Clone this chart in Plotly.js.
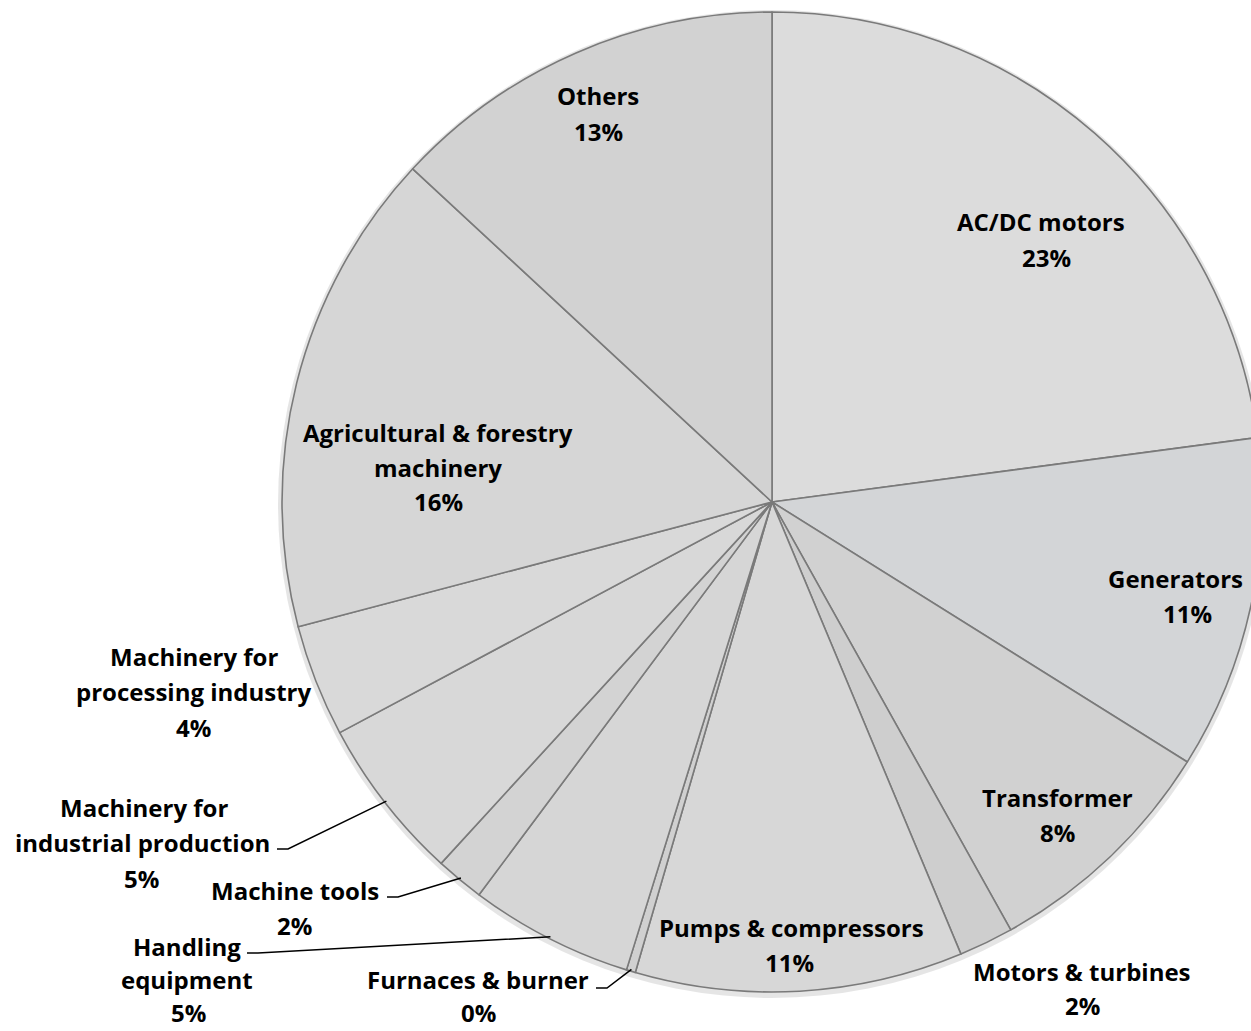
<!DOCTYPE html>
<html>
<head>
<meta charset="utf-8">
<script src="https://cdn.plot.ly/plotly-3.0.1.min.js"></script>
<style>
html,body{margin:0;padding:0;overflow:hidden;background:#fff;}
#chart{width:1280px;height:1031px;}
</style>
</head>
<body>
<div id="chart"></div>
<script>
// ---- data ----
const categories = [
  "AC/DC motors", "Generators", "Transformer", "Motors & turbines",
  "Pumps & compressors", "Furnaces & burner", "Handling equipment",
  "Machine tools", "Machinery for industrial production",
  "Machinery for processing industry", "Agricultural & forestry machinery", "Others"
];
const shares = [22.9, 11.0, 8.0, 1.8, 10.8, 0.3, 5.4, 1.6, 5.4, 3.7, 16.0, 13.1];
const percentLabels = ["23%", "11%", "8%", "2%", "11%", "0%", "5%", "2%", "5%", "4%", "16%", "13%"];
const labelLines = [
  ["AC/DC motors"], ["Generators"], ["Transformer"], ["Motors & turbines"],
  ["Pumps & compressors"], ["Furnaces & burner"], ["Handling", "equipment"],
  ["Machine tools"], ["Machinery for", "industrial production"],
  ["Machinery for", "processing industry"], ["Agricultural & forestry", "machinery"], ["Others"]
];

// ---- layout / style config ----
const W = 1280, H = 1031;
const CX = 772, CY = 502, R = 490;
const sliceColors = ["#dcdcdc", "#d3d5d7", "#d1d1d1", "#cecece", "#d7d7d7", "#d0d0d0",
                     "#d6d6d6", "#d3d3d3", "#d8d8d8", "#d9d9d9", "#d6d6d6", "#d2d2d2"];
// label placement (pixels): per-line x centres, first line y, line gap
const labelPos = [
  {x: [1041, 1046], y: 222, gap: 35},
  {x: [1175, 1187], y: 578, gap: 35},
  {x: [1057, 1057], y: 797, gap: 35},
  {x: [1082, 1082], y: 971, gap: 34},
  {x: [791, 789], y: 927, gap: 35},
  {x: [478, 478], y: 979, gap: 33, lead: [596, 988]},
  {x: [187, 187, 188], y: 946, gap: 33, lead: [247, 953]},
  {x: [295, 294], y: 890, gap: 35, lead: [387, 897]},
  {x: [144, 142, 141], y: 807, gap: 35.5, lead: [277, 849]},
  {x: [194, 194, 193], y: 656, gap: 35.5},
  {x: [438, 438, 438], y: 432, gap: 35},
  {x: [598, 598], y: 96, gap: 35}
];

const px = x => x / W;
const py = y => 1 - y / H;

const annotations = [];
const shapes = [];
const total = shares.reduce((a, b) => a + b, 0);
let cum = 0;
categories.forEach((c, i) => {
  const lines = labelLines[i].concat([percentLabels[i]]);
  const pos = labelPos[i];
  lines.forEach((t, k) => {
    annotations.push({
      x: px(pos.x[k]), y: py(pos.y + k * pos.gap), xref: "paper", yref: "paper",
      text: "<b>" + t.replace(/&/g, "&amp;") + "</b>", showarrow: false,
      xanchor: "center", yanchor: "middle", borderpad: 0,
      font: {family: "'Open Sans', sans-serif", size: 24, color: "#000"}
    });
  });
  const mid = (cum + shares[i] / 2) / total;
  cum += shares[i];
  if (pos.lead) {
    const th = mid * 2 * Math.PI;
    const ex = CX + (R - 2) * Math.sin(th);
    const ey = CY - (R - 2) * Math.cos(th);
    const [sx, sy] = pos.lead;
    shapes.push({
      type: "path", xref: "paper", yref: "paper",
      path: `M ${px(sx)} ${py(sy)} L ${px(sx + 11)} ${py(sy)} L ${px(ex)} ${py(ey)}`,
      line: {color: "#000", width: 1.5}
    });
  }
});

// soft shadow rim behind the pie
shapes.unshift({
  type: "circle", xref: "paper", yref: "paper", layer: "below",
  x0: px(CX - R - 4), x1: px(CX + R + 4), y0: py(CY + R + 6), y1: py(CY - R - 2),
  fillcolor: "rgba(0,0,0,0.10)", line: {width: 0}
});

const trace = {
  type: "pie",
  labels: categories,
  values: shares,
  sort: false,
  direction: "clockwise",
  rotation: 0,
  textinfo: "none",
  hoverinfo: "label+percent",
  domain: {x: [px(CX - R), px(CX + R)], y: [py(CY + R), py(CY - R)]},
  marker: {
    colors: sliceColors,
    line: {color: "#7a7a7a", width: 1.6}
  },
  showlegend: false
};

const layout = {
  width: W, height: H,
  margin: {l: 0, r: 0, t: 0, b: 0},
  paper_bgcolor: "#ffffff",
  showlegend: false,
  annotations: annotations,
  shapes: shapes
};

Plotly.newPlot("chart", [trace], layout, {displayModeBar: false, staticPlot: true});
</script>
</body>
</html>
